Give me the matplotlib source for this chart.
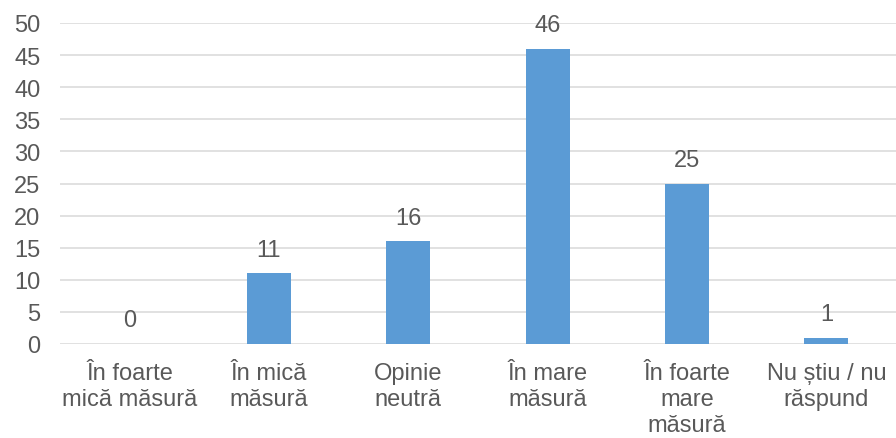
import matplotlib.pyplot as plt

categories = [
    "În foarte\nmică măsură",
    "În mică\nmăsură",
    "Opinie\nneutră",
    "În mare\nmăsură",
    "În foarte\nmare\nmăsură",
    "Nu știu / nu\nrăspund",
]
values = [0, 11, 16, 46, 25, 1]
y_ticks = [0, 5, 10, 15, 20, 25, 30, 35, 40, 45, 50]

plt.rcParams["font.family"] = ["Liberation Sans", "DejaVu Sans"]
text_color = "#595959"
bar_color = "#5B9BD5"
grid_color = "#D9D9D9"

fig = plt.figure(figsize=(8.96, 4.39), dpi=100)
ax = fig.add_axes([60 / 896, 94 / 439, 836 / 896, 321 / 439])

x = range(len(categories))
bars = ax.bar(x, values, width=0.315, color=bar_color, zorder=3)

# value labels above each bar
for rect, v in zip(bars, values):
    ax.annotate(
        str(v),
        (rect.get_x() + rect.get_width() / 2, rect.get_height()),
        xytext=(0, 9),
        textcoords="offset points",
        ha="center",
        va="bottom",
        fontsize=17,
        color=text_color,
    )

ax.set_xlim(-0.5, len(categories) - 0.5)
ax.set_ylim(0, 50)
ax.set_yticks(y_ticks)
ax.set_xticks(list(x))
ax.set_xticklabels(categories, fontsize=17, color=text_color, linespacing=1.23, va="top")
ax.tick_params(axis="y", labelsize=17, labelcolor=text_color, length=0, pad=14)
ax.tick_params(axis="x", length=0, pad=13)

ax.yaxis.grid(True, color=grid_color, linewidth=1.1, zorder=0)
for s in ax.spines.values():
    s.set_visible(False)

fig.savefig("out.png", dpi=100)
